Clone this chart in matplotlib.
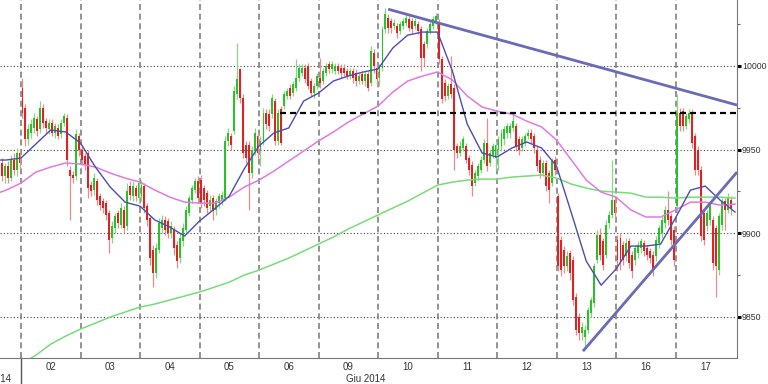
import numpy as np
import matplotlib
matplotlib.use("Agg")
import matplotlib.pyplot as plt
from matplotlib.transforms import blended_transform_factory

plt.rcParams['font.family'] = ['Liberation Sans', 'DejaVu Sans']

# ---------------- data ----------------
day_labels = ['02', '03', '04', '05', '06', '09', '10', '11', '12', '13', '16', '17']
month_labels = ['Mag 2014', 'Giu 2014']

opens = [
    9942, 9934, 9940, 9933, 9944, 9938, 9948,
    9987, 9975, 9956, 9960, 9963, 9968, 9962, 9975, 9967, 9962, 9966, 9960, 9963, 9959, 9966, 9969, 9938, 9935, 9934, 9958,
    9950, 9946, 9948, 9929, 9926, 9931, 9922, 9919, 9918, 9912, 9897, 9903, 9912, 9905, 9914, 9904, 9928, 9922, 9927, 9921,
    9922, 9928, 9916, 9909, 9890, 9876, 9890, 9903, 9908, 9907, 9900, 9902, 9893, 9885, 9895, 9902, 9912, 9920, 9926, 9931,
    9932, 9927, 9924, 9916, 9921, 9914, 9918, 9920, 9921, 9955, 9958, 9961, 9983, 9998, 9981, 9953, 9953, 9936, 9949, 9958,
    9949, 9955, 9972, 9971, 9971, 9979, 9955, 9974, 9976, 9982, 9987, 9984, 9987, 9993, 9996, 9999, 10000, 9991, 9984, 9988,
    9993, 9991, 9996, 10001, 9998, 9997, 10000, 9999, 9999, 9997, 9994, 9997, 9996, 9991, 9995, 9991, 9995, 9990, 10008, 9999,
    9993, 9999, 10022, 10029, 10027, 10024, 10024, 10021, 10024, 10026, 10028, 10027, 10024, 10025, 10022, 10013, 10013, 10021, 10024, 10027,
    10025, 10004, 9990, 9982, 9989, 9987, 9952, 9948, 9951, 9952, 9945, 9941, 9930, 9934, 9938, 9944, 9954, 9942, 9947, 9945,
    9950, 9952, 9956, 9960, 9960, 9963, 9964, 9956, 9951, 9954, 9958, 9960, 9958, 9950, 9944, 9936, 9942, 9936, 9930, 9944,
    9922, 9896, 9890, 9880, 9888, 9884, 9862, 9850, 9840, 9838, 9842, 9852, 9858, 9884, 9899, 9895, 9887, 9906, 9911, 9920,
    9896, 9897, 9893, 9886, 9895, 9887, 9884, 9888, 9891, 9894, 9891, 9889, 9887, 9886, 9894, 9900, 9906, 9914, 9910, 9902,
    9916, 9972, 9973, 9964, 9968, 9972, 9958, 9950, 9938, 9912, 9904, 9908, 9908, 9903, 9878, 9905, 9919, 9914, 9920,
]
highs = [
    9945, 9942, 9943, 9947, 9948, 9951, 9950,
    9993, 9977, 9965, 9968, 9972, 9970, 9979, 9977, 9969, 9968, 9968, 9966, 9965, 9968, 9972, 9971, 9940, 9937, 9962, 9960,
    9952, 9948, 9950, 9931, 9936, 9933, 9924, 9921, 9920, 9914, 9907, 9912, 9914, 9918, 9916, 9930, 9931, 9931, 9929, 9933,
    9932, 9930, 9918, 9911, 9893, 9894, 9909, 9911, 9910, 9909, 9907, 9904, 9895, 9900, 9906, 9916, 9923, 9929, 9933, 9934,
    9935, 9929, 9926, 9923, 9923, 9921, 9924, 9925, 9958, 9963, 9960, 9988, 10014, 9999, 9983, 9955, 9955, 9952, 9963, 9960,
    9958, 9975, 9974, 9974, 9983, 9981, 9974, 9976, 9985, 9987, 9989, 9991, 10004, 10001, 10001, 10001, 10002, 9993, 9990, 9996,
    10005, 9999, 10002, 10003, 10003, 10002, 10002, 10001, 10001, 9999, 9999, 9999, 9998, 9996, 9997, 9997, 9997, 10012, 10010, 10001,
    10001, 10024, 10035, 10031, 10029, 10028, 10026, 10027, 10029, 10031, 10030, 10029, 10029, 10027, 10024, 10015, 10023, 10027, 10030, 10032,
    10028, 10006, 9992, 9990, 10006, 9989, 9954, 9955, 9958, 9954, 9947, 9943, 9938, 9942, 9946, 9956, 9969, 9950, 9954, 9955,
    9958, 9962, 9964, 9966, 9966, 9972, 9966, 9958, 9958, 9960, 9962, 9962, 9960, 9952, 9946, 9944, 9944, 9938, 9945, 9946,
    9924, 9898, 9892, 9889, 9890, 9886, 9864, 9852, 9847, 9845, 9856, 9862, 9882, 9902, 9903, 9897, 9908, 9913, 9944, 9922,
    9899, 9900, 9895, 9897, 9897, 9889, 9893, 9895, 9897, 9896, 9893, 9891, 9889, 9898, 9905, 9910, 9916, 9925, 9912, 9904,
    9983, 9975, 9975, 9972, 9974, 9974, 9960, 9952, 9940, 9914, 9914, 9918, 9910, 9905, 9912, 9921, 9921, 9924, 9922,
]
lows = [
    9931, 9930, 9930, 9931, 9935, 9934, 9938,
    9969, 9952, 9953, 9957, 9960, 9958, 9960, 9963, 9960, 9959, 9958, 9957, 9956, 9957, 9964, 9940, 9908, 9930, 9932, 9946,
    9941, 9938, 9921, 9922, 9923, 9917, 9914, 9912, 9908, 9888, 9894, 9900, 9903, 9903, 9900, 9902, 9920, 9919, 9919, 9918,
    9919, 9912, 9904, 9881, 9868, 9873, 9888, 9900, 9899, 9897, 9897, 9887, 9879, 9882, 9892, 9900, 9910, 9918, 9924, 9918,
    9915, 9916, 9912, 9913, 9908, 9911, 9915, 9917, 9919, 9952, 9950, 9959, 9980, 9978, 9945, 9942, 9914, 9933, 9947, 9945,
    9940, 9953, 9962, 9961, 9969, 9953, 9953, 9953, 9974, 9980, 9980, 9982, 9985, 9991, 9994, 9990, 9986, 9982, 9981, 9986,
    9987, 9989, 9994, 9996, 9996, 9995, 9995, 9993, 9994, 9992, 9992, 9990, 9988, 9989, 9989, 9988, 9985, 9988, 9996, 9988,
    9988, 9997, 10020, 10020, 10020, 10022, 10017, 10019, 10022, 10024, 10021, 10020, 10022, 10019, 9997, 10000, 10011, 10019, 10022, 10025,
    10001, 9978, 9979, 9980, 9981, 9938, 9945, 9946, 9949, 9942, 9935, 9922, 9928, 9932, 9936, 9942, 9937, 9940, 9945, 9938,
    9938, 9949, 9953, 9957, 9957, 9961, 9949, 9947, 9949, 9952, 9956, 9954, 9948, 9937, 9933, 9934, 9925, 9918, 9928, 9935,
    9877, 9874, 9876, 9877, 9872, 9857, 9839, 9836, 9836, 9832, 9840, 9850, 9856, 9882, 9884, 9878, 9885, 9903, 9909, 9908,
    9877, 9878, 9881, 9883, 9879, 9873, 9881, 9885, 9888, 9886, 9884, 9882, 9874, 9883, 9891, 9897, 9903, 9905, 9893, 9880,
    9912, 9961, 9961, 9962, 9966, 9951, 9935, 9935, 9895, 9893, 9901, 9905, 9878, 9862, 9875, 9902, 9902, 9912, 9911,
]
closes = [
    9934, 9940, 9933, 9944, 9938, 9948, 9942,
    9972, 9956, 9962, 9965, 9969, 9961, 9975, 9966, 9963, 9966, 9960, 9964, 9958, 9966, 9970, 9944, 9934, 9933, 9959, 9950,
    9944, 9941, 9927, 9925, 9933, 9920, 9917, 9915, 9911, 9896, 9904, 9910, 9906, 9915, 9903, 9925, 9923, 9928, 9922, 9930,
    9929, 9915, 9908, 9885, 9876, 9891, 9906, 9908, 9902, 9900, 9904, 9891, 9883, 9897, 9903, 9914, 9921, 9927, 9931, 9921,
    9918, 9920, 9915, 9920, 9913, 9919, 9922, 9923, 9955, 9960, 9953, 9985, 9992, 9981, 9948, 9945, 9936, 9950, 9960, 9948,
    9955, 9972, 9965, 9964, 9981, 9955, 9972, 9954, 9983, 9985, 9982, 9989, 9993, 9999, 9999, 9992, 9988, 9984, 9988, 9994,
    9990, 9997, 10000, 9998, 10001, 10000, 9997, 9996, 9996, 9994, 9997, 9993, 9991, 9994, 9991, 9995, 9987, 10009, 10000, 9992,
    9999, 10022, 10031, 10023, 10023, 10026, 10020, 10025, 10027, 10029, 10023, 10022, 10027, 10021, 10005, 10005, 10021, 10025, 10028, 10030,
    10004, 9980, 9982, 9988, 9983, 9950, 9948, 9952, 9956, 9944, 9938, 9928, 9936, 9940, 9944, 9954, 9940, 9948, 9952, 9953,
    9956, 9960, 9962, 9964, 9964, 9967, 9952, 9950, 9956, 9958, 9960, 9956, 9951, 9940, 9936, 9942, 9928, 9926, 9943, 9938,
    9880, 9878, 9880, 9886, 9876, 9860, 9842, 9840, 9844, 9842, 9854, 9860, 9880, 9899, 9887, 9881, 9905, 9911, 9920, 9912,
    9884, 9882, 9884, 9894, 9882, 9877, 9891, 9893, 9895, 9889, 9887, 9885, 9878, 9896, 9903, 9908, 9914, 9908, 9896, 9884,
    9972, 9964, 9964, 9970, 9972, 9954, 9938, 9938, 9898, 9896, 9912, 9916, 9882, 9880, 9910, 9919, 9914, 9921, 9915,
]

# moving averages, sampled every 5 candles starting 10 candles before 02
ma_fast = [9943.7, 9943.7, 9944.9, 9953.3, 9961.7, 9960.5, 9953.9, 9939.5, 9927.5, 9918.5, 9916.1,
           9907.8, 9903.6, 9898.2, 9907.2, 9914.4, 9922.1, 9938.3, 9952.1, 9959.9, 9962.9,
           9979.0, 9983.8, 9991.0, 9994.0, 9996.4, 9998.2, 10010.8, 10018.5, 10020.3, 10020.3,
           9997.0, 9965.2, 9947.9, 9945.5, 9950.9, 9954.5, 9950.9, 9940.1, 9912.0, 9883.2,
           9868.8, 9878.4, 9892.2, 9892.2, 9893.4, 9909.0, 9925.7, 9928.1, 9919.7, 9912.6]
ma_mid = [9922.5, 9925.7, 9929.9, 9936.5, 9939.5, 9941.9, 9941.3, 9939.5, 9935.9, 9932.9, 9930.5,
          9925.7, 9921.5, 9918.5, 9917.9, 9917.9, 9921.5, 9927.5, 9931.7, 9937.1, 9943.1,
          9949.1, 9955.1, 9960.5, 9966.4, 9971.2, 9976.0, 9984.4, 9991.0, 9994.0, 9996.4,
          9991.6, 9982.0, 9975.4, 9973.0, 9971.2, 9967.0, 9963.5, 9955.7, 9943.7, 9931.7,
          9924.5, 9921.5, 9913.8, 9909.6, 9909.6, 9913.8, 9918.5, 9918.5, 9916.7, 9917.3]
ma_slow = [9808.0, 9815.0, 9821.5, 9826.9, 9833.5, 9838.3, 9842.5, 9846.1, 9849.7, 9852.7, 9855.7,
           9857.5, 9859.9, 9862.3, 9864.7, 9867.6, 9870.6, 9874.8, 9877.8, 9881.4, 9885.0,
           9889.2, 9893.4, 9897.6, 9902.4, 9906.6, 9910.8, 9915.0, 9919.1, 9923.9, 9928.7,
           9930.5, 9931.7, 9932.3, 9932.3, 9933.5, 9934.1, 9934.7, 9932.9, 9929.3, 9926.9,
           9925.1, 9924.5, 9923.9, 9921.5, 9921.5, 9920.9, 9921.5, 9921.5, 9921.5, 9920.9]

# drawn annotations (candle-position, price)
resist_x = [123.4, 240.7]
resist_y = [10034.0, 9976.6]
support_x = [188.9, 240.7]
support_y = [9829.3, 9936.5]
level_price = 9972.0
level_start = 87.1
y_ticks = [9850, 9900, 9950, 10000]

# ---------------- figure ----------------
per_day = 20
n_pre = 7
W, H = 768, 384
fig = plt.figure(figsize=(W / 100, H / 100), dpi=100)
ax = fig.add_axes([0, 1 - 358 / H, 737 / W, 358 / H])

o = np.array(opens, float); h = np.array(highs, float)
l = np.array(lows, float); c = np.array(closes, float)
assert len(o) == len(h) == len(l) == len(c)
xpos = np.arange(len(c)) - n_pre + 0.5
up = c >= o

green, red = '#2cc02c', '#e02222'
green_w, red_w = '#86d886', '#eb8c8c'

ax.vlines(xpos[up], l[up], h[up], color=green_w, lw=0.9, zorder=3)
ax.vlines(xpos[~up], l[~up], h[~up], color=red_w, lw=0.9, zorder=3)
body_lo = np.minimum(o, c)
body_h = np.maximum(np.abs(c - o), 0.8)
ax.bar(xpos[up], body_h[up], bottom=body_lo[up], width=0.65, color=green, lw=0, zorder=4)
ax.bar(xpos[~up], body_h[~up], bottom=body_lo[~up], width=0.65, color=red, lw=0, zorder=4)

ma_x = np.arange(len(ma_fast)) * 5 - 10
ax.plot(ma_x, ma_slow, color='#78dc78', lw=1.1, zorder=5)
ax.plot(ma_x, ma_mid, color='#e07ae0', lw=1.1, zorder=5)
ax.plot(ma_x, ma_fast, color='#4c4cb4', lw=1.0, zorder=6)

ax.plot(resist_x, resist_y, color='#6a6ab8', lw=2.0, zorder=7, solid_capstyle='butt')
ax.plot(support_x, support_y, color='#6a6ab8', lw=2.0, zorder=7, solid_capstyle='butt')

xmin, xmax = -7.06, 240.67
ax.set_xlim(xmin, xmax)
ax.set_ylim(9825.2, 10039.5)

ax.hlines(level_price, level_start, xmax, color='black', lw=1.6,
          linestyles=[(0, (2.7, 1.8))], zorder=6)

for yv in y_ticks:
    ax.axhline(yv, color='#444444', lw=0.8, ls=(0, (1, 2)), zorder=1)
for k in range(len(day_labels)):
    ax.axvline(k * per_day, color='#808080', lw=1.2, ls=(0, (3.6, 2.2)), zorder=1)

# spines
for s in ['left', 'top']:
    ax.spines[s].set_visible(False)
ax.spines['right'].set_color('#777777')
ax.spines['bottom'].set_color('#777777')

ax.yaxis.tick_right()
ax.set_yticks(y_ticks)
ax.set_yticks([9875, 9925, 9975, 10025], minor=True)
ax.tick_params(axis='y', which='major', length=2.6, width=2.2, color='black',
               labelsize=6.3, labelcolor='#333333', pad=1.0)
ax.tick_params(axis='y', which='minor', length=2.5, width=0.8, color='#666666')

ax.set_xticks([])
trans = blended_transform_factory(ax.transData, fig.transFigure)
for k, lab in enumerate(day_labels):
    ax.text(k * per_day + per_day / 2, 1 - 367 / H, lab, transform=trans,
            ha='center', va='center', fontsize=7, color='#333333')
ax.text(-3.4, 1 - 379 / H, month_labels[0], transform=trans, ha='right',
        va='center', fontsize=7, color='#333333')
ax.text(116.0, 1 - 379 / H, month_labels[1], transform=trans, ha='center',
        va='center', fontsize=7, color='#333333')
# month separator continues below the axis
ax.plot([0, 0], [0, -26 / 358], color='#555555', lw=1.0,
        transform=blended_transform_factory(ax.transData, ax.transAxes), clip_on=False)

fig.savefig('out.png', dpi=100)
